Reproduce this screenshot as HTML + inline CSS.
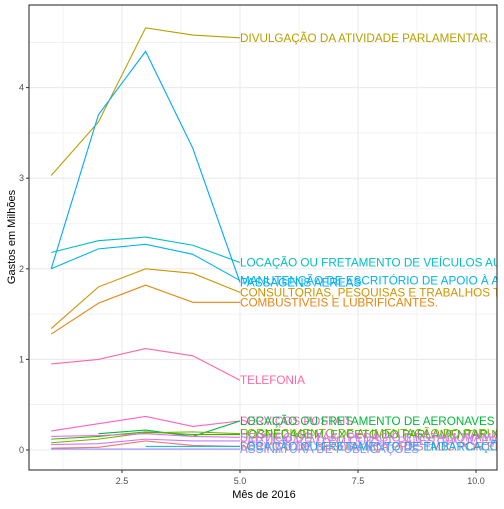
<!DOCTYPE html>
<html><head><meta charset="utf-8"><style>
body{margin:0;background:#fff}
svg text{font-family:"Liberation Sans",sans-serif}
</style></head><body>
<svg id="chart" width="504" height="504" xmlns="http://www.w3.org/2000/svg">
<defs><clipPath id="pc"><rect x="29" y="5" width="468" height="465"/></clipPath></defs>
<rect x="29" y="5" width="468" height="465" fill="#fff"/>
<g id="grid"></g>
<g id="lines" clip-path="url(#pc)"></g>
<g id="labels" clip-path="url(#pc)"></g>
<rect x="29" y="5" width="468" height="465" fill="none" stroke="#333" stroke-width="1.1"/>
<g id="axes"></g>
<text x="264" y="498" text-anchor="middle" font-size="11" fill="#000">Mês de 2016</text>
<text transform="translate(15,237) rotate(-90)" text-anchor="middle" font-size="11" fill="#000">Gastos em Milhões</text>
</svg>
<script>
const xTicks=[2.5,5.0,7.5,10.0];
const xTickLabels=["2.5","5.0","7.5","10.0"];
const yTicks=[0,1,2,3,4];
const months=[1,2,3,4,5];
const seriesNames=["DIVULGAÇÃO DA ATIVIDADE PARLAMENTAR.","PASSAGENS AÉREAS","LOCAÇÃO OU FRETAMENTO DE VEÍCULOS AUTOMOTORES","MANUTENÇÃO DE ESCRITÓRIO DE APOIO À ATIVIDADE PARLAMENTAR","CONSULTORIAS, PESQUISAS E TRABALHOS TÉCNICOS.","COMBUSTÍVEIS E LUBRIFICANTES.","TELEFONIA","SERVIÇOS POSTAIS","LOCAÇÃO OU FRETAMENTO DE AERONAVES","FORNECIMENTO DE ALIMENTAÇÃO DO PARLAMENTAR","HOSPEDAGEM, EXCETO DO PARLAMENTAR NO DISTRITO FEDERAL","SERVIÇO DE TÁXI, PEDÁGIO E ESTACIONAMENTO","SERVIÇO DE SEGURANÇA PRESTADO POR EMPRESA ESPECIALIZADA","PARTICIPAÇÃO EM CURSO, PALESTRA OU EVENTO SIMILAR","LOCAÇÃO OU FRETAMENTO DE EMBARCAÇÕES","ASSINATURA DE PUBLICAÇÕES"];
const seriesColors=["#B79F00","#00A9FF","#00BFC4","#00B4EF","#CD9600","#E68613","#FF67A4","#FF61C3","#00BA38","#7CAE00","#39B600","#E76BF3","#F8766D","#C77CFF","#00B0F6","#9590FF"];
const seriesValues=[
[3.03,3.62,4.66,4.58,4.55],
[2.0,3.7,4.4,3.33,1.85],
[2.18,2.31,2.35,2.26,2.07],
[2.0,2.22,2.27,2.16,1.87],
[1.34,1.8,2.0,1.95,1.74],
[1.28,1.62,1.82,1.63,1.63],
[0.95,1.0,1.12,1.04,0.77],
[0.21,0.29,0.37,0.26,0.32],
[null,0.18,0.22,0.15,0.32],
[0.08,0.12,0.19,0.2,0.18],
[0.12,0.15,0.2,0.17,0.17],
[0.15,0.16,0.18,0.15,0.14],
[0.02,0.03,0.1,0.05,0.04],
[0.06,0.07,0.12,0.1,0.1],
[null,null,0.04,0.04,0.04],
[0.01,0.01,0.01,0.01,0.01]];
const NS="http://www.w3.org/2000/svg";
const X=v=>122+(v-2.5)*47.2;
const Y=v=>450-v*90.6;
function mk(t,a,p){const e=document.createElementNS(NS,t);for(const k in a)e.setAttribute(k,a[k]);p.appendChild(e);return e;}
const grid=document.getElementById('grid'),axes=document.getElementById('axes');
[1.25,3.75,6.25,8.75].forEach(v=>{const l=mk('line',{x1:X(v),x2:X(v),y1:5,y2:470,stroke:'#ebebeb','stroke-width':0.6},grid);

});
[0.5,1.5,2.5,3.5,4.5].forEach(v=>{const l=mk('line',{x1:29,x2:497,y1:Y(v),y2:Y(v),stroke:'#ebebeb','stroke-width':0.6},grid);

});
xTicks.forEach((v,i)=>{const l=mk('line',{x1:X(v),x2:X(v),y1:5,y2:470,stroke:'#ebebeb','stroke-width':1.1},grid);


const t=mk('line',{x1:X(v),x2:X(v),y1:470,y2:473,stroke:'#333'},axes);


const tx=mk('text',{x:X(v),y:484,'text-anchor':'middle','font-size':9,fill:'#4d4d4d'},axes);tx.textContent=xTickLabels[i];

});
yTicks.forEach(v=>{const l=mk('line',{x1:29,x2:497,y1:Y(v),y2:Y(v),stroke:'#ebebeb','stroke-width':1.1},grid);


const t=mk('line',{x1:26,x2:29,y1:Y(v),y2:Y(v),stroke:'#333'},axes);


const tx=mk('text',{x:24,y:Y(v)+3,'text-anchor':'end','font-size':9,fill:'#4d4d4d'},axes);tx.textContent=String(v);

});
const lines=document.getElementById('lines'),labels=document.getElementById('labels');
seriesValues.forEach((vals,i)=>{
  const pts=[];vals.forEach((v,j)=>{if(v!==null)pts.push(X(months[j])+','+Y(v));});
  const p=mk('polyline',{points:pts.join(' '),fill:'none',stroke:seriesColors[i],'stroke-width':1.1},lines);
  
  
  const last=vals[vals.length-1];
  const t=mk('text',{x:X(months[months.length-1]),y:Y(last)+4,'font-size':11.7,fill:seriesColors[i]},labels);
  t.textContent=seriesNames[i];
  
  
});
</script>
</body></html>
